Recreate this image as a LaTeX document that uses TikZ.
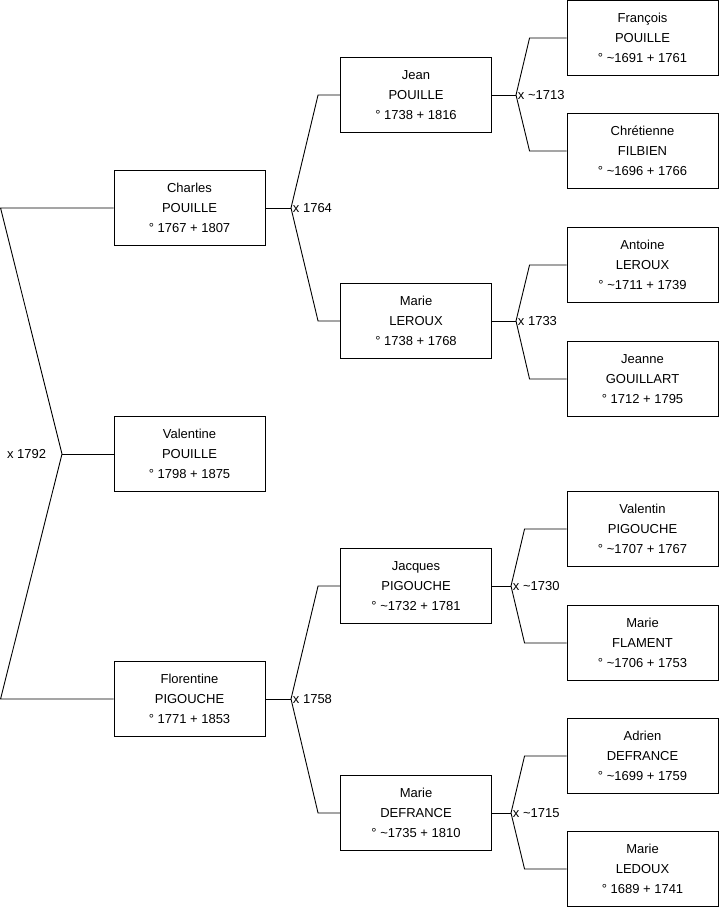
\documentclass[tikz,border=0pt]{standalone}
\usepackage{fontspec}
\setmainfont{Liberation Sans}
\usepackage{tikz}
\newcommand{\abt}{\textasciitilde}

\begin{document}
\begin{tikzpicture}[x=1pt,y=-1pt,line width=0.9pt,
  person/.style={draw, minimum width=151pt, minimum height=75pt, align=center, inner sep=0pt, font=\fontsize{13}{20}\selectfont},
  union/.style={inner sep=1.5pt, font=\fontsize{13}{15}\selectfont}]

\useasboundingbox (0,0) rectangle (719,908);

%%%%%% Valentine and her parents
\node [person] (charles) at (189.5,208) {Charles\\POUILLE\\° 1767 + 1807};
\node [person] (valentine) at (189.5,454) {Valentine\\POUILLE\\° 1798 + 1875};
\node [person] (florentine) at (189.5,699) {Florentine\\PIGOUCHE\\° 1771 + 1853};

\coordinate (b1792) at (62,454); \coordinate (c1792) at ([xshift=-113pt]charles.west); \coordinate (f1792) at ([xshift=-113pt]florentine.west);
\draw (charles.west) -- (c1792) -- (b1792) -- (f1792) -- (florentine.west); \draw (b1792) -- (valentine.west);
\node [union, anchor=east] (x1792) at (48,454) {x 1792};


%%%%%% Second column
\node [person] (jean) at (416,95) {Jean\\POUILLE\\° 1738 + 1816};
\node [person] (marieleroux) at (416,321) {Marie\\LEROUX\\° 1738 + 1768};
\node [person] (jacques) at (416,586) {Jacques\\PIGOUCHE\\° \abt1732 + 1781};
\node [person] (mariedefrance) at (416,813) {Marie\\DEFRANCE\\° \abt1735 + 1810};

\coordinate (b1764) at (291,208); \coordinate (b1758) at (291,699);
\draw (charles.east) -- (b1764); \draw (jean.west) -- ([xshift=-22pt]jean.west) -- (b1764) -- ([xshift=-22pt]marieleroux.west) -- (marieleroux.west);
\draw (florentine.east) -- (b1758); \draw (jacques.west) -- ([xshift=-22pt]jacques.west) -- (b1758) -- ([xshift=-22pt]mariedefrance.west) -- (mariedefrance.west);
\node [union, anchor=west] (x1764) at (b1764) {x 1764}; \node [union, anchor=west] (x1758) at (b1758) {x 1758};


%%%%%% Third column
\node [person] (francois) at (642.5,38) {François\\POUILLE\\° \abt1691 + 1761};
\node [person] (chretienne) at (642.5,151) {Chrétienne\\FILBIEN\\° \abt1696 + 1766};
\node [person] (antoine) at (642.5,265) {Antoine\\LEROUX\\° \abt1711 + 1739};
\node [person] (jeanne) at (642.5,379) {Jeanne\\GOUILLART\\° 1712 + 1795};
\node [person] (valentin) at (642.5,529) {Valentin\\PIGOUCHE\\° \abt1707 + 1767};
\node [person] (marieflament) at (642.5,643) {Marie\\FLAMENT\\° \abt1706 + 1753};
\node [person] (adrien) at (642.5,756) {Adrien\\DEFRANCE\\° \abt1699 + 1759};
\node [person] (marieledoux) at (642.5,869) {Marie\\LEDOUX\\° 1689 + 1741};

\coordinate (b1713) at (516,95); \coordinate (b1733) at (516,321); \coordinate (b1730) at (511,586); \coordinate (b1715) at (511,813);
\draw (jean.east) -- (b1713); \draw (francois.west) -- ([xshift=-37pt]francois.west) -- (b1713) -- ([xshift=-37pt]chretienne.west) -- (chretienne.west);
\draw (marieleroux.east) -- (b1733); \draw (antoine.west) -- ([xshift=-37pt]antoine.west) -- (b1733) -- ([xshift=-37pt]jeanne.west) -- (jeanne.west);
\draw (jacques.east) -- (b1730); \draw (valentin.west) -- ([xshift=-42pt]valentin.west) -- (b1730) -- ([xshift=-42pt]marieflament.west) -- (marieflament.west);
\draw (mariedefrance.east) -- (b1715); \draw (adrien.west) -- ([xshift=-42pt]adrien.west) -- (b1715) -- ([xshift=-42pt]marieledoux.west) -- (marieledoux.west);

\node [union, anchor=west] (x1713) at (b1713) {x \abt1713}; \node [union, anchor=west] (x1733) at (b1733) {x 1733};
\node [union, anchor=west] (x1730) at (b1730) {x \abt1730}; \node [union, anchor=west] (x1715) at (b1715) {x \abt1715};

\end{tikzpicture}
\end{document}
